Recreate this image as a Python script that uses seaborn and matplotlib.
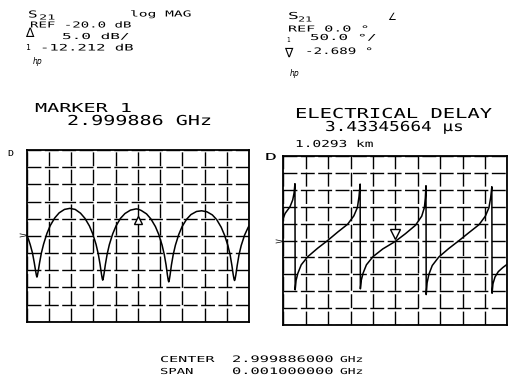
import numpy as np
import pandas as pd
import seaborn as sns
import matplotlib
matplotlib.use('Agg')
import matplotlib.pyplot as plt
from matplotlib import patheffects
from matplotlib.transforms import Affine2D, offset_copy

# ---------------- data ----------------
mag_freq_khz = [-500, -492, -484, -474, -466, -460, -456, -454, -452, -448,
                -442, -434, -424, -409, -394, -374, -354, -330, -306, -282,
                -258, -238, -218, -203, -188, -178, -170, -164, -160, -158,
                -156, -152, -146, -138, -128, -113, -98, -78, -58, -33,
                -8, 0, 15, 39, 59, 79, 94, 109, 119, 127,
                133, 137, 139, 141, 145, 151, 159, 169, 184, 199,
                219, 239, 264, 287, 311, 335, 355, 375, 390, 405,
                415, 423, 429, 433, 435, 437, 441, 447, 455, 465,
                480, 495, 500]
mag_db = [-19.6, -21.0, -22.6, -25.0, -27.8, -30.2, -31.6, -32.0, -31.6, -30.2,
          -27.8, -25.0, -22.4, -19.3, -17.0, -14.8, -13.3, -12.3, -12.0, -12.3,
          -13.4, -14.9, -17.1, -19.4, -22.5, -25.3, -28.3, -31.0, -32.5, -32.9,
          -32.5, -31.0, -28.3, -25.3, -22.5, -19.4, -17.1, -14.9, -13.5, -12.5,
          -12.15, -12.21, -12.6, -13.6, -15.1, -17.3, -19.6, -22.7, -25.5, -28.5,
          -31.4, -33.0, -33.4, -33.0, -31.4, -28.5, -25.5, -22.7, -19.6, -17.3,
          -15.2, -13.8, -12.9, -12.7, -13.0, -13.9, -15.3, -17.5, -19.8, -22.8,
          -25.5, -28.6, -31.3, -32.7, -33.0, -32.7, -31.3, -28.6, -25.5, -22.8,
          -19.8, -17.7, -17.1]

ph_freq_khz = [-500, -492, -470, -458, -452, -448, -447, -443, -435, -420,
               -391, -347, -302, -257, -213, -185, -169, -162, -157, -156,
               -152, -144, -129, -100, -56, 0, 45, 90, 118, 130,
               134, 137, 138, 142, 150, 165, 194, 238, 285, 330,
               374, 402, 418, 426, 431, 432, 436, 445, 460, 480,
               500]
ph_deg = [66, 80, 100, 120, 140, 168, -146, -118, -97, -72,
          -48, -23, 0, 25, 48, 73, 98, 130, 167, -143,
          -118, -97, -72, -48, -25, -2.7, 20, 45, 72, 98,
          125, 162, -160, -125, -100, -74, -49, -24, 0, 24,
          47, 72, 97, 128, 159, -156, -128, -108, -92, -80,
          -70]

marker_khz = 0.0
marker_db = -12.212
marker_deg = -2.689
center_ghz = 2.999886
span_ghz = 0.001
delay_us = 3.43345664
delay_km = 1.0293
mag_ref_db = -20.0
mag_scale_db = 5.0
ph_ref_deg = 0.0
ph_scale_deg = 50.0

# ---------------- drawing ----------------
sns.set_style('white')
plt.rcParams['font.family'] = ['DejaVu Sans Mono', 'DejaVu Sans']

W, H = 508, 384
fig = plt.figure(figsize=(W / 100, H / 100), dpi=100)
fig.patch.set_facecolor('white')


class Stretch(patheffects.AbstractPathEffect):
    """Widen glyphs horizontally (plotter-style lettering)."""
    def __init__(self, sx):
        super().__init__()
        self.sx = sx

    def draw_path(self, renderer, gc, tpath, affine, rgbFace=None):
        renderer.draw_path(gc, tpath, Affine2D().scale(self.sx, 1.0) + affine, rgbFace)


def ptxt(s, x0, x1, base, cap, **kw):
    em = cap / 0.729
    natural = em * (0.602 * len(s) - 0.1)
    sx = max((x1 - x0) / natural, 0.6)
    fig.text(x0 / W, 1 - base / H, s, fontsize=em * 0.72, ha='left',
             va='baseline', color='black', path_effects=[Stretch(sx)], **kw)


half_span = span_ghz * 1e6 / 2


def setup(ax, ref, scale):
    lo, hi = ref - 5 * scale, ref + 5 * scale
    ax.set_xlim(-half_span, half_span)
    ax.set_ylim(lo, hi)
    ax.set_xticks(np.linspace(-half_span, half_span, 11))
    ax.set_yticks(np.linspace(lo, hi, 11))
    ax.grid(True, color='black', lw=1.0, ls=(0, (10, 2.5)))
    ax.tick_params(length=0, labelbottom=False, labelleft=False)
    for sp in ax.spines.values():
        sp.set_visible(True)
        sp.set_color('black')
        sp.set_linewidth(1.3)
    ax.set_xlabel('')
    ax.set_ylabel('')
    ax.set_facecolor('white')


df_mag = pd.DataFrame({'freq': mag_freq_khz, 'val': mag_db})
df_ph = pd.DataFrame({'freq': ph_freq_khz, 'val': ph_deg})

ax1 = fig.add_axes([26.7 / W, 1 - 321.7 / H, 222.3 / W, 171.7 / H])
setup(ax1, mag_ref_db, mag_scale_db)
sns.lineplot(data=df_mag, x='freq', y='val', ax=ax1, color='black', lw=1.1,
             estimator=None, sort=False)
ax1.plot([marker_khz], [marker_db], marker='^', ms=6, mfc='white', mec='black',
         mew=1.0, ls='none',
         transform=offset_copy(ax1.transData, fig=fig, y=-11, units='dots'))
ax1.set_xlabel('')
ax1.set_ylabel('')

ax2 = fig.add_axes([283.3 / W, 1 - 325 / H, 224.0 / W, 169 / H])
setup(ax2, ph_ref_deg, ph_scale_deg)
sns.lineplot(data=df_ph, x='freq', y='val', ax=ax2, color='black', lw=1.1,
             estimator=None, sort=False)
ax2.plot([marker_khz], [marker_deg], marker='v', ms=7, mfc='white', mec='black',
         mew=1.0, ls='none',
         transform=offset_copy(ax2.transData, fig=fig, y=7, units='dots'))
ax2.set_xlabel('')
ax2.set_ylabel('')

# ---- left header ----
ptxt('S', 28, 36, 17.5, 7)
ptxt('21', 39, 54, 19.5, 5)
ptxt('log MAG', 130, 190, 16.5, 6)
ptxt(f'REF {mag_ref_db:.1f} dB', 30, 130, 27.5, 6)
ptxt(f'{mag_scale_db:.1f} dB/', 62, 128, 39, 6)
fig.text(25 / W, 1 - 37 / H, '\u2206', fontsize=9, family='DejaVu Sans',
         ha='left', va='baseline', color='black')
ptxt('1', 26, 30, 50, 6)
ptxt(f'{marker_db:.3f} dB', 40, 132, 50.5, 6.5)
fig.text(33 / W, 1 - 64 / H, 'hp', fontsize=5.5, family='DejaVu Sans',
         style='italic', ha='left', va='baseline', color='black')

# ---- right header ----
ptxt('S', 288, 297, 19, 7)
ptxt('21', 298, 311, 21.5, 5)
fig.text(387 / W, 1 - 20 / H, '\u2220', fontsize=7, family='DejaVu Sans',
         ha='left', va='baseline', color='black')
ptxt(f'REF {ph_ref_deg:.1f} \u00b0', 288, 368, 31.5, 6)
ptxt(f'{ph_scale_deg:.1f} \u00b0/', 310, 375, 40, 6)
ptxt('1', 287, 290, 42, 5)
fig.text(284 / W, 1 - 57 / H, '\u2207', fontsize=9, family='DejaVu Sans',
         ha='left', va='baseline', color='black')
ptxt(f'{marker_deg:.3f} \u00b0', 305, 372, 54, 6.5)
fig.text(290 / W, 1 - 76 / H, 'hp', fontsize=5.5, family='DejaVu Sans',
         style='italic', ha='left', va='baseline', color='black')

# ---- marker / delay readouts ----
ptxt('MARKER 1', 35, 130, 112, 9)
ptxt(f'{center_ghz:.6f} GHz', 67, 210, 125, 10)
ptxt('ELECTRICAL DELAY', 295, 490, 118, 10)
ptxt(f'{delay_us:.8f} \u00b5s', 325, 462, 131, 10)
ptxt(f'{delay_km:.4f} km', 295, 372, 147, 7)
ptxt('D', 8, 13, 156, 6)
ptxt('D', 265, 275, 160, 7)
ptxt('>', 19, 27, 238, 6)
ptxt('>', 275, 283, 244, 6)

# ---- footer ----
ptxt('CENTER', 160, 213, 362, 6)
ptxt(f'{center_ghz:.9f}', 232, 332, 362, 6.5)
ptxt('GHz', 340, 362, 362, 6)
ptxt('SPAN', 160, 192, 374, 6)
ptxt(f'{span_ghz:.9f}', 232, 332, 374, 6.5)
ptxt('GHz', 340, 362, 374, 6)

fig.savefig('out.png', dpi=100, facecolor='white')
